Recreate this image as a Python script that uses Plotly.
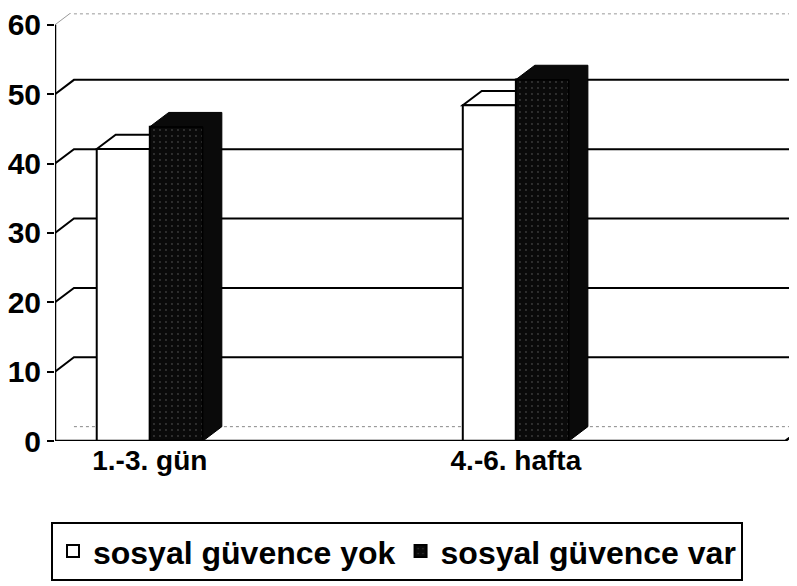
import plotly.graph_objects as go

# data
categories = ['1.-3. gün', '4.-6. hafta']
guvence_yok = [42.1, 48.4]
guvence_var = [45.3, 52.1]
series_names = ['sosyal güvence yok', 'sosyal güvence var']
y_ticks = [0, 10, 20, 30, 40, 50, 60]

font_main = dict(family='Liberation Sans, Arial, sans-serif', color='black', weight='bold')

# axis geometry (page body adds an 8px margin, so figure is 789x578)
W, H = 789, 578
L, B = 45, 145
x_range = [-0.259, 1.768]
y_range = [0, 61.7]
px_x = (W - L) / (x_range[1] - x_range[0])
px_y = (H - B) / (y_range[1] - y_range[0])
# 3D depth offsets, converted from pixels to axis units
dx = 19 / px_x
dy = 14.5 / px_y
bar_w = 0.145

fig = go.Figure()
fig.add_trace(go.Bar(x=[0, 1], y=guvence_yok, name=series_names[0], width=bar_w, offset=-bar_w,
                     marker=dict(color='white', line=dict(color='black', width=2))))
fig.add_trace(go.Bar(x=[0, 1], y=guvence_var, name=series_names[1], width=bar_w, offset=0,
                     marker=dict(color='#0a0a0a', line=dict(color='black', width=2),
                                 pattern=dict(shape='.', fgcolor='#6a6a6a', bgcolor='#0a0a0a',
                                              size=6, solidity=0.08))))

shapes = []
x0 = x_range[0]
x_end = 1.736
# back-wall gridlines
for v in y_ticks[1:-1]:
    shapes.append(dict(type='path', xref='x', yref='y', layer='below',
                       path=f'M {x0},{v} L {x0 + dx},{v + dy} L {x_range[1]},{v + dy}',
                       line=dict(color='black', width=2)))
# back floor and top edge (faint)
shapes.append(dict(type='line', xref='x', yref='y', layer='below',
                   x0=x0 + dx, x1=x_end + dx, y0=dy, y1=dy,
                   line=dict(color='#888', width=1, dash='dot')))
shapes.append(dict(type='line', xref='x', yref='paper', layer='below',
                   x0=x0 + dx, x1=x_range[1], y0=0.998, y1=0.998,
                   line=dict(color='#999', width=1, dash='dot')))
shapes.append(dict(type='line', xref='x', yref='y', layer='below',
                   x0=x0, x1=x0 + dx, y0=60, y1=60 + dy,
                   line=dict(color='#999', width=1)))
# white bar tops
for i, v in enumerate(guvence_yok):
    l, r = i - bar_w, i
    shapes.append(dict(type='path', xref='x', yref='y', layer='below',
                       path=f'M {l},{v} L {l + dx},{v + dy} L {r + dx},{v + dy} L {r},{v} Z',
                       fillcolor='white', line=dict(color='black', width=2)))
# black bar tops and sides
for i, v in enumerate(guvence_var):
    l, r = i, i + bar_w
    shapes.append(dict(type='path', xref='x', yref='y', layer='above',
                       path=(f'M {l},{v} L {l + dx},{v + dy} L {r + dx},{v + dy} '
                             f'L {r + dx},{dy} L {r},0 L {r},{v} Z'),
                       fillcolor='#0a0a0a', line=dict(color='black', width=1)))
# front floor edge and y axis line
shapes.append(dict(type='path', xref='x', yref='y', layer='above',
                   path=f'M {x0},0 L {x_end},0 L {x_end + dx},{dy}',
                   line=dict(color='black', width=2.5)))
shapes.append(dict(type='line', xref='x', yref='y', layer='above',
                   x0=x0, x1=x0, y0=0, y1=60, line=dict(color='black', width=2.5)))

fig.update_layout(
    width=W, height=H,
    margin=dict(l=L, r=0, t=0, b=B),
    paper_bgcolor='white', plot_bgcolor='white',
    barmode='overlay',
    shapes=shapes,
    showlegend=True,
    legend=dict(orientation='h', xref='container', yref='container',
                x=0.493, xanchor='center', y=0.06, yanchor='middle',
                bordercolor='black', borderwidth=2,
                font=dict(size=32, **font_main), itemwidth=30,
                traceorder='normal'),
)
fig.update_xaxes(range=x_range, tickvals=[0, 1], ticktext=categories, showline=False,
                 ticks='', tickfont=dict(size=28, **font_main), showgrid=False, zeroline=False)
fig.update_yaxes(range=y_range, tickvals=y_ticks, showline=False, ticklabeloverflow='allow',
                 ticks='outside', ticklen=7, tickcolor='black', tickwidth=2,
                 showgrid=False, tickfont=dict(size=30, **font_main), zeroline=False)

fig.write_html("out.html")
